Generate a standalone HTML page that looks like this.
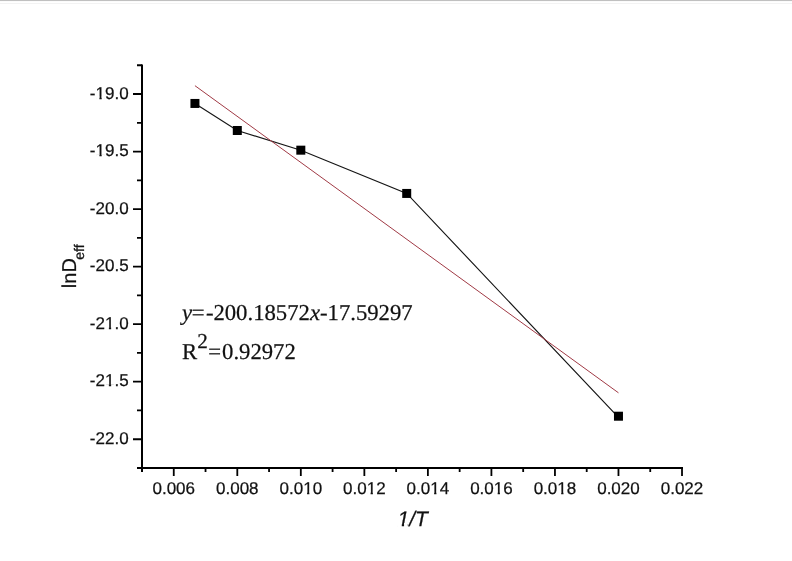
<!DOCTYPE html>
<html><head><meta charset="utf-8"><title>lnDeff vs 1/T</title><style>
html,body{margin:0;padding:0;background:#fff;}
body{width:792px;height:561px;overflow:hidden;position:relative;}
.top{position:absolute;left:0;top:0;width:792px;height:1px;background:#c0c0c0;}
.top2{position:absolute;left:0;top:1px;width:792px;height:1px;background:#fbfbfb;}
.top3{position:absolute;left:0;top:3px;width:792px;height:1px;background:#f3f3f3;}
svg{position:absolute;left:0;top:0;will-change:transform;}
.t{fill:#111;stroke:#111;stroke-width:0.25px;text-rendering:geometricPrecision;}
</style></head><body>
<div class="top"></div><div class="top2"></div><div class="top3"></div>
<svg width="792" height="561" viewBox="0 0 792 561">
<path d="M142 64.5V472M137 468H683" stroke="#000" stroke-width="2" fill="none"/>
<path d="M137 65.25H142M133 94.02H142M137 122.78H142M133 151.55H142M137 180.32H142M133 209.09H142M137 237.85H142M133 266.62H142M137 295.39H142M133 324.16H142M137 352.92H142M133 381.69H142M137 410.46H142M133 439.23H142M137 468H142M142 468V472M173.76 468V476M205.53 468V472M237.3 468V476M269.06 468V472M300.82 468V476M332.59 468V472M364.36 468V476M396.12 468V472M427.89 468V476M459.65 468V472M491.41 468V476M523.18 468V472M554.95 468V476M586.71 468V472M618.47 468V476M650.24 468V472M682.01 468V476" stroke="#000" stroke-width="1.8" fill="none"/>
<g class="t" font-family="Liberation Sans" font-size="17"><text x="89.85" y="98.82">-19.0</text><text x="89.85" y="156.35">-19.5</text><text x="89.85" y="213.89">-20.0</text><text x="89.85" y="271.42">-20.5</text><text x="89.85" y="328.96">-21.0</text><text x="89.85" y="386.49">-21.5</text><text x="89.85" y="444.03">-22.0</text><text x="152.49" y="494">0.006</text><text x="216.02" y="494">0.008</text><text x="279.55" y="494">0.010</text><text x="343.08" y="494">0.012</text><text x="406.61" y="494">0.014</text><text x="470.14" y="494">0.016</text><text x="533.67" y="494">0.018</text><text x="597.2" y="494">0.020</text><text x="660.73" y="494">0.022</text></g>
<text class="t" font-family="Liberation Sans" font-style="italic" font-size="21" x="397.5" y="525.5">1/T</text>
<text class="t" font-family="Liberation Sans" font-size="20" transform="rotate(-90)" x="-288.2" y="75.6">lnD<tspan x="-259.79" y="83.75" font-size="14">eff</tspan></text>
<polyline points="194.94,103.45 237.3,130.49 300.82,150.17 406.71,193.44 617.27,416.21" stroke="#151515" stroke-width="1.15" fill="none"/>
<line x1="194.94" y1="85.68" x2="618.47" y2="392.82" stroke="#a03a45" stroke-width="1"/>
<g fill="#000"><rect x="190.44" y="98.95" width="9" height="9"/><rect x="232.8" y="125.99" width="9" height="9"/><rect x="296.32" y="145.67" width="9" height="9"/><rect x="402.21" y="188.94" width="9" height="9"/><rect x="613.97" y="411.71" width="9" height="9"/></g>
<text class="t" font-family="Liberation Serif" font-size="22.7"><tspan x="182" y="319.5" font-style="italic">y</tspan><tspan x="191.68" y="319.5">=</tspan><tspan x="205.88" y="319.5">-200.18572</tspan><tspan x="309.91" y="319.5" font-style="italic">x</tspan><tspan x="319.99" y="319.5">-17.59297</tspan></text>
<text class="t" font-family="Liberation Serif" font-size="22.7"><tspan x="182" y="358.5">R</tspan><tspan x="197.14" y="347.9" font-size="21.2">2</tspan><tspan x="208.24" y="358.5">=</tspan><tspan x="222.04" y="358.5">0.92972</tspan></text>
<g fill="#fff"><rect x="96.06" y="96.6" width="3.33" height="3.97"/><rect x="101.69" y="96.6" width="3.19" height="3.97"/><rect x="96.06" y="154.13" width="3.33" height="3.97"/><rect x="101.69" y="154.13" width="3.19" height="3.97"/><rect x="105.52" y="326.74" width="3.33" height="3.97"/><rect x="111.15" y="326.74" width="3.19" height="3.97"/><rect x="105.52" y="384.27" width="3.33" height="3.97"/><rect x="111.15" y="384.27" width="3.19" height="3.97"/><rect x="303.73" y="491.78" width="3.33" height="3.97"/><rect x="309.36" y="491.78" width="3.19" height="3.97"/><rect x="367.26" y="491.78" width="3.33" height="3.97"/><rect x="372.89" y="491.78" width="3.19" height="3.97"/><rect x="430.79" y="491.78" width="3.33" height="3.97"/><rect x="436.42" y="491.78" width="3.19" height="3.97"/><rect x="494.32" y="491.78" width="3.33" height="3.97"/><rect x="499.95" y="491.78" width="3.19" height="3.97"/><rect x="557.85" y="491.78" width="3.33" height="3.97"/><rect x="563.48" y="491.78" width="3.19" height="3.97"/><rect x="397.5" y="522.98" width="4.26" height="4.47"/><rect x="404.06" y="522.98" width="3.44" height="4.47"/></g>
</svg>
</body></html>
